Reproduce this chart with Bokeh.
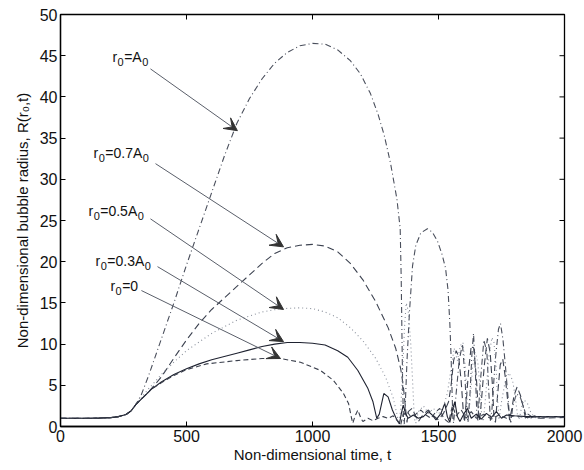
from bokeh.plotting import figure
from bokeh.models import Range1d, FixedTicker, Arrow, VeeHead, Label
from bokeh.embed import file_html
from bokeh.resources import INLINE

# Shared start-up phase (before the curves separate)
t_early = [0, 50, 100, 150, 200, 230, 260, 280, 300]
r_early = [1.0, 1.0, 1.0, 1.02, 1.08, 1.2, 1.45, 1.9, 2.7]

# r0 = A0
t_a = [320, 350, 400, 450, 500, 550, 600, 650, 700, 750, 800, 850, 900, 950,
       1000, 1050, 1100, 1150, 1190, 1230, 1260, 1285, 1310, 1335, 1348, 1352,
       1355, 1358, 1361, 1364, 1368, 1375, 1385, 1397, 1410, 1430, 1456, 1475,
       1496, 1515, 1528, 1538, 1545, 1550, 1554, 1557, 1560, 1570, 1582, 1595,
       1605, 1612, 1617, 1625, 1633, 1639, 1646, 1652, 1656, 1665, 1680, 1692,
       1700, 1706, 1712, 1725, 1738, 1746, 1756, 1766, 1776, 1782, 1787, 1795,
       1810, 1825, 1837, 1848, 1860, 1880, 1900, 1950, 2000]
r_a = [3.8, 6.2, 10.6, 15.0, 19.6, 24.0, 28.4, 32.8, 36.8, 39.8, 42.2, 44.1,
       45.4, 46.2, 46.5, 46.4, 45.7, 44.4, 42.8, 40.4, 37.9, 35.3, 31.9, 27.6,
       24.0, 18.0, 11.0, 4.5, 0.8, 0.3, 2.5, 8.0, 14.0, 19.5, 22.0, 23.5, 24.0,
       23.6, 22.5, 20.8, 19.2, 16.5, 12.5, 8.5, 4.0, 1.0, 0.4, 4.0, 8.0, 10.0,
       6.0, 1.5, 0.5, 4.0, 9.0, 11.3, 7.0, 1.5, 0.6, 5.0, 10.5, 9.0, 4.0, 0.7,
       2.0, 8.0, 11.8, 12.5, 10.5, 7.2, 3.5, 1.0, 0.5, 2.5, 4.0, 3.5, 2.5, 1.2,
       0.9, 1.3, 1.1, 1.2, 1.2]

# r0 = 0.7 A0
t_b = [350, 400, 450, 500, 550, 600, 650, 700, 750, 800, 850, 900, 950, 1000,
       1050, 1100, 1150, 1200, 1250, 1300, 1330, 1350, 1360, 1370, 1375, 1380,
       1395, 1410, 1420, 1440, 1460, 1480, 1500, 1520, 1540, 1550, 1560, 1570,
       1580, 1590, 1598, 1603, 1610, 1620, 1630, 1640, 1650, 1658, 1663, 1670,
       1682, 1694, 1705, 1714, 1720, 1726, 1735, 1745, 1755, 1765, 1775, 1782,
       1790, 1800, 1812, 1825, 1836, 1845, 1855, 1870, 1900, 2000]
r_b = [4.2, 6.0, 8.3, 10.5, 12.5, 14.2, 15.6, 17.0, 18.4, 19.8, 21.0, 21.7,
       22.0, 22.1, 21.9, 21.2, 19.8, 17.8, 15.2, 12.0, 9.5, 7.0, 5.0, 2.0, 0.5,
       1.8, 2.2, 1.2, 0.6, 1.5, 2.0, 1.3, 0.8, 1.6, 3.0, 5.0, 8.0, 9.2, 8.5,
       5.5, 2.0, 0.5, 3.0, 7.0, 9.8, 9.5, 6.0, 2.0, 0.6, 3.0, 7.5, 10.7, 9.0,
       5.0, 1.2, 0.5, 4.0, 7.5, 8.2, 6.0, 3.0, 0.8, 2.0, 3.8, 4.8, 3.8, 2.4,
       1.0, 1.5, 1.2, 1.0, 1.1]

# r0 = 0.5 A0
t_c = [350, 400, 450, 500, 600, 700, 800, 873, 950, 1000, 1050, 1100, 1150,
       1200, 1250, 1290, 1320, 1335, 1342, 1350, 1358, 1365, 1372, 1380, 1390,
       1398, 1404, 1410, 1420, 1440, 1460, 1480, 1500, 1520, 1535, 1550, 1562,
       1575, 1587, 1597, 1607, 1614, 1619, 1626, 1636, 1646, 1656, 1665, 1672,
       1678, 1688, 1700, 1712, 1720, 1728, 1734, 1740, 1750, 1765, 1780, 1794,
       1805, 1813, 1820, 1830, 1840, 1853, 1865, 1880, 1900, 2000]
r_c = [4.6, 6.3, 7.8, 9.2, 11.3, 12.9, 13.9, 14.3, 14.4, 14.3, 13.9, 13.2,
       12.0, 10.4, 8.3, 6.0, 3.5, 1.5, 0.4, 2.0, 7.0, 12.0, 15.0, 14.0, 10.0,
       5.0, 1.0, 0.4, 1.8, 2.5, 1.6, 2.2, 1.5, 2.5, 4.0, 7.0, 9.5, 8.0, 9.8,
       10.2, 7.0, 3.0, 0.6, 3.5, 7.5, 9.0, 7.8, 4.5, 1.0, 0.6, 4.0, 8.5, 10.8,
       10.2, 7.5, 3.5, 0.8, 3.0, 5.5, 6.5, 5.6, 3.5, 1.5, 0.8, 2.4, 3.2, 2.8,
       1.8, 1.1, 1.0, 1.2]

# r0 = 0.3 A0
t_d = [330, 360, 400, 450, 500, 550, 600, 650, 700, 750, 800, 850, 900, 950,
       1000, 1050, 1100, 1140, 1180, 1220, 1240, 1255, 1265, 1283, 1300, 1317,
       1335, 1345, 1352, 1360, 1370, 1380, 1400, 1420, 1440, 1460, 1475, 1490,
       1510, 1525, 1535, 1545, 1555, 1565, 1575, 1585, 1600, 1615, 1630, 1650,
       1670, 1690, 1710, 1730, 1750, 1770, 1800, 1850, 1900, 2000]
r_d = [3.6, 4.5, 5.4, 6.3, 7.0, 7.6, 8.1, 8.5, 8.9, 9.3, 9.7, 10.0, 10.2,
       10.2, 10.1, 9.9, 9.2, 8.4, 6.8, 4.6, 3.0, 1.0, 1.5, 4.0, 3.6, 2.0, 0.8,
       0.3, 1.5, 2.6, 1.5, 1.0, 1.4, 1.0, 1.2, 1.8, 1.4, 0.8, 1.6, 2.8, 1.2,
       0.5, 2.0, 3.0, 1.2, 0.6, 1.5, 2.2, 1.0, 1.5, 0.9, 1.6, 1.1, 1.8, 1.0,
       1.4, 1.3, 1.2, 1.2, 1.2]

# r0 = 0
t_e = [330, 360, 400, 450, 500, 580, 700, 800, 873, 952, 1032, 1083, 1123,
       1143, 1155, 1160, 1168, 1180, 1192, 1200, 1220, 1240, 1260, 1280, 1300,
       1320, 1340, 1350, 1360, 1375, 1390, 1410, 1430, 1450, 1470, 1490, 1505,
       1520, 1540, 1555, 1570, 1590, 1610, 1630, 1650, 1680, 1710, 1740, 1770,
       1800, 1850, 1900, 2000]
r_e = [3.6, 4.5, 5.3, 6.2, 6.9, 7.6, 8.0, 8.25, 8.25, 7.8, 6.8, 5.6, 4.0, 2.8,
       1.0, 0.4, 1.2, 2.0, 1.0, 0.6, 1.0, 0.7, 1.0, 1.2, 1.0, 1.3, 0.6, 0.2,
       1.5, 1.8, 1.2, 1.5, 2.0, 1.4, 1.0, 1.8, 2.2, 1.0, 0.5, 2.5, 1.3, 2.0,
       1.0, 1.8, 1.0, 1.5, 0.9, 1.4, 1.0, 1.3, 1.1, 1.2, 1.2]

x_ticks = [0, 500, 1000, 1500, 2000]
y_ticks = [0, 5, 10, 15, 20, 25, 30, 35, 40, 45, 50]

FONT = "Liberation Sans"
X_MAX, Y_MAX = 2000, 50

p = figure(width=584, height=470, output_backend="svg", toolbar_location=None,
           x_range=Range1d(0, X_MAX), y_range=Range1d(0, Y_MAX),
           min_border_left=60, min_border_right=20, min_border_top=14,
           min_border_bottom=44)
p.grid.visible = False
p.outline_line_color = "black"
p.outline_line_width = 1.3
p.background_fill_color = "white"
p.border_fill_color = "white"

for ax, ticks in ((p.xaxis[0], x_ticks), (p.yaxis[0], y_ticks)):
    ax.ticker = FixedTicker(ticks=ticks)
    ax.major_tick_in = 5
    ax.major_tick_out = 0
    ax.minor_tick_line_color = None
    ax.axis_line_color = "black"
    ax.axis_line_width = 1.3
    ax.major_tick_line_color = "black"
    ax.major_label_text_font = FONT
    ax.major_label_text_font_size = "16px"
    ax.major_label_text_color = "#111111"
    ax.axis_label_text_font = FONT
    ax.axis_label_text_font_size = "15px"
    ax.axis_label_text_font_style = "normal"
    ax.axis_label_text_color = "#111111"
    ax.major_label_standoff = 3

p.xaxis[0].axis_label = "Non-dimensional time, t"
p.xaxis[0].axis_label_standoff = 1
p.yaxis[0].axis_label = "Non-dimensional bubble radius, R(r\u2080,t)"
p.yaxis[0].axis_label_standoff = 6

# inward tick marks along the top and right edges of the box
p.scatter(x_ticks, [Y_MAX] * len(x_ticks), marker="dash", size=10,
          angle=1.5708, line_color="black", line_width=1)
p.scatter([X_MAX] * len(y_ticks), y_ticks, marker="dash", size=10,
          line_color="black", line_width=1)

curves = [
    (t_a, r_a, "6 3 1 3", "#4a4f5c", 1.1),
    (t_b, r_b, "7 4", "#3c4250", 1.1),
    (t_c, r_c, "1 3", "#8a909c", 1.1),
    (t_d, r_d, "solid", "#1e2230", 1.1),
    (t_e, r_e, "5 3", "#3a3f4c", 1.1),
]
for ts, rs, dash, color, w in curves:
    p.line(t_early + ts, r_early + rs, line_dash=dash, line_color=color,
           line_width=w)

# Label pieces: (text, is_subscript); widths from Arial-metric em advances
EM = {"r": 0.333, "=": 0.584, "0": 0.556, "3": 0.556, "5": 0.556, "7": 0.556,
      ".": 0.278, "A": 0.667}
MAIN_PX, SUB_PX, SUB_DROP = 14, 11, 5

notes = [
    ([("r", 0), ("0", 1), ("=A", 0), ("0", 1)], (206, 44.8), (357, 43.4), (702, 35.9)),
    ([("r", 0), ("0", 1), ("=0.7A", 0), ("0", 1)], (131, 33.2), (377, 31.9), (885, 21.8)),
    ([("r", 0), ("0", 1), ("=0.5A", 0), ("0", 1)], (111, 26.1), (357, 25.2), (885, 14.2)),
    ([("r", 0), ("0", 1), ("=0.3A", 0), ("0", 1)], (139, 20.1), (385, 19.4), (885, 10.3)),
    ([("r", 0), ("0", 1), ("=0", 0)], (198, 17.1), (321, 16.5), (873, 8.25)),
]
for pieces, (tx, ty), (x0, y0), (x1, y1) in notes:
    offset = 0.0
    for text, sub in pieces:
        px = SUB_PX if sub else MAIN_PX
        p.add_layout(Label(x=tx, y=ty, x_offset=offset,
                           y_offset=-SUB_DROP if sub else 0, text=text,
                           text_font=FONT, text_font_size=f"{px}px",
                           text_baseline="middle", text_color="#111111"))
        offset += sum(EM[c] for c in text) * px + 0.5
    p.add_layout(Arrow(end=VeeHead(size=13, fill_color="#333333",
                                   line_color="#333333"),
                       x_start=x0, y_start=y0, x_end=x1, y_end=y1,
                       line_color="#5a5f6a", line_width=1))

open("out.html", "w").write(file_html(p, INLINE))
